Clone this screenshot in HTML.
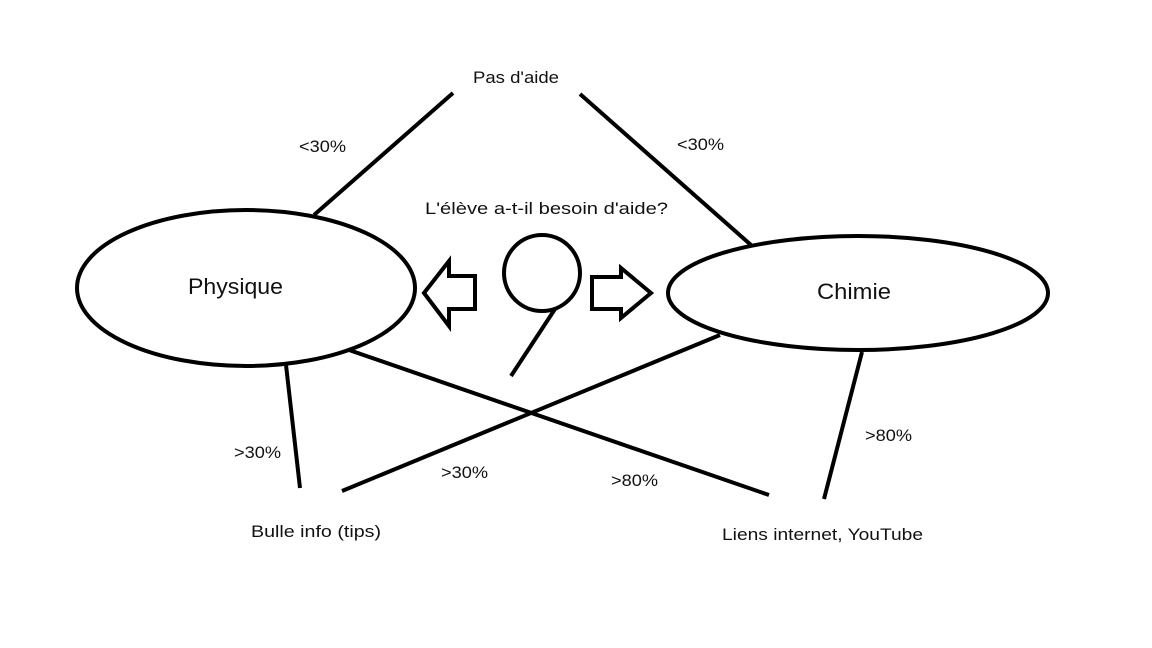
<!DOCTYPE html>
<html><head><meta charset="utf-8"><style>
html,body{margin:0;padding:0;background:#fff;width:1152px;height:648px;overflow:hidden}
svg{position:absolute;left:0;top:0}
text{font-family:"Liberation Sans",sans-serif;fill:#111}
</style></head><body>
<svg width="1152" height="648" viewBox="0 0 1152 648">
<g stroke="#000" stroke-width="4" fill="none" stroke-linecap="butt">
<ellipse cx="246" cy="288" rx="169" ry="78"/>
<ellipse cx="858" cy="293" rx="190" ry="57"/>
<line x1="453" y1="93" x2="314" y2="215"/>
<line x1="580" y1="94" x2="751" y2="245"/>
<line x1="286" y1="365" x2="300" y2="488"/>
<line x1="349" y1="350" x2="769" y2="495"/>
<line x1="720" y1="335" x2="342" y2="491"/>
<line x1="862" y1="352" x2="824" y2="499"/>
<circle cx="542" cy="273" r="38"/>
<line x1="555" y1="309" x2="511" y2="376"/>
<polygon points="424,293 449,261 449,276 475,276 475,309 449,309 449,326" stroke-linejoin="miter"/>
<polygon points="651,293 621,268 621,277 592,277 592,309 621,309 621,318" stroke-linejoin="miter"/>
</g>
<g font-size="17" lengthAdjust="spacingAndGlyphs">
<text x="473" y="83" textLength="86" lengthAdjust="spacingAndGlyphs">Pas d'aide</text>
<text x="299" y="152" textLength="47" lengthAdjust="spacingAndGlyphs">&lt;30%</text>
<text x="677" y="150" textLength="47" lengthAdjust="spacingAndGlyphs">&lt;30%</text>
<text x="425" y="214" textLength="243" lengthAdjust="spacingAndGlyphs">L'élève a-t-il besoin d'aide?</text>
<text x="234" y="458" textLength="47" lengthAdjust="spacingAndGlyphs">&gt;30%</text>
<text x="441" y="478" textLength="47" lengthAdjust="spacingAndGlyphs">&gt;30%</text>
<text x="611" y="486" textLength="47" lengthAdjust="spacingAndGlyphs">&gt;80%</text>
<text x="865" y="441" textLength="47" lengthAdjust="spacingAndGlyphs">&gt;80%</text>
<text x="251" y="537" textLength="130" lengthAdjust="spacingAndGlyphs">Bulle info (tips)</text>
<text x="722" y="540" textLength="201" lengthAdjust="spacingAndGlyphs">Liens internet, YouTube</text>
</g>
<text x="188" y="294" font-size="22" textLength="95" lengthAdjust="spacingAndGlyphs">Physique</text>
<text x="817" y="299" font-size="22" textLength="74" lengthAdjust="spacingAndGlyphs">Chimie</text>
</svg>
</body></html>
